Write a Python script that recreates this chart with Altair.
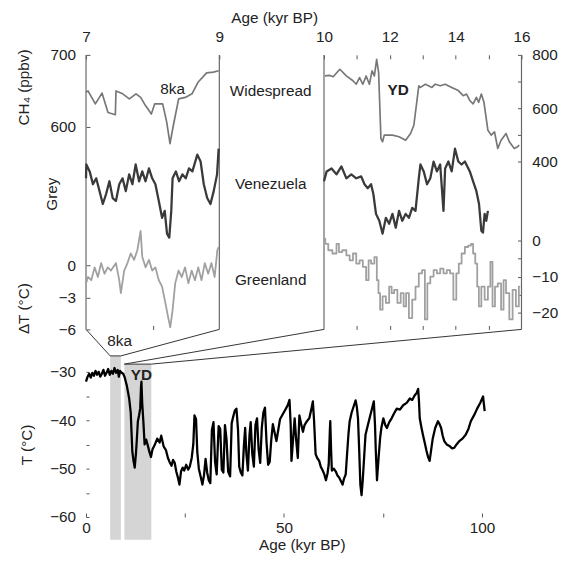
import altair as alt
import pandas as pd

# ---------------- data ----------------
# Bottom panel: temperature record, age (kyr BP) and T (deg C)
T_AGE = [0.0, 0.4, 0.8, 1.2, 1.6, 2.0, 2.4, 2.8, 3.2, 3.6, 4.0, 4.4, 4.8, 5.2, 5.6, 6.0, 6.4, 6.8, 7.2, 7.6,
         8.0, 8.3, 8.6, 9.0, 9.4, 9.8, 10.3, 10.9, 11.3, 11.5, 11.7, 12.0, 12.3, 12.6, 12.8, 13.1, 13.4, 13.7,
         13.9, 14.0, 14.2, 14.5, 14.8, 15.2, 15.6, 16.0, 16.4, 16.8, 17.4, 18.0, 18.6, 19.0, 19.6, 20.2, 20.7,
         21.2, 21.6, 22.0, 22.4, 22.8, 23.2, 23.6, 24.0, 24.4, 24.8, 25.3, 25.8, 26.2, 26.7, 27.1, 27.4, 27.8,
         28.1, 28.5, 29.0, 29.4, 29.8, 30.2, 30.6, 31.0, 31.4, 31.8, 32.2, 32.6, 33.0, 33.5, 33.9, 34.3, 34.7,
         35.1, 35.5, 35.9, 36.4, 36.8, 37.2, 37.6, 38.0, 38.4, 38.7, 39.1, 39.5, 39.9, 40.2, 40.5, 40.9, 41.3,
         41.6, 42.0, 42.4, 42.8, 43.2, 43.6, 44.0, 44.4, 44.8, 45.2, 45.6, 46.0, 46.4, 46.8, 47.2, 47.6, 48.1,
         48.6, 49.0, 49.8, 50.5, 51.0, 51.4, 51.7, 51.9, 52.3, 52.7, 53.1, 53.5, 53.9, 54.3, 54.8, 55.2, 55.8,
         56.4, 56.9, 57.3, 57.6, 58.0, 58.4, 58.9, 59.3, 59.8, 60.2, 60.6, 61.0, 61.3, 61.6, 61.7, 61.9, 62.1,
         62.6, 63.1, 63.5, 63.9, 64.4, 64.8, 65.2, 65.6, 66.0, 66.3, 66.6, 67.1, 67.7, 68.1, 68.4, 68.7, 69.0,
         69.3, 69.6, 69.9, 70.3, 70.6, 71.2, 71.8, 72.3, 72.7, 73.0, 73.2, 73.5, 73.9, 74.3, 74.6, 75.1, 75.6,
         76.0, 76.6, 77.2, 77.8, 78.5, 79.3, 80.1, 81.0, 81.8, 82.4, 83.0, 83.5, 83.9, 84.1, 84.3, 84.7, 85.1,
         85.6, 86.0, 86.4, 86.8, 87.2, 87.6, 88.2, 88.9, 89.3, 89.7, 90.1, 90.5, 91.1, 91.8, 92.4, 93.0, 93.6,
         94.3, 95.1, 95.9, 96.6, 97.2, 98.0, 98.8, 99.6, 100.3, 100.5, 100.7]
T_VAL = [-32.0, -31.0, -30.4, -31.2, -30.2, -30.8, -29.8, -30.6, -30.0, -31.0, -30.4, -29.6, -30.8, -30.2,
         -29.4, -30.6, -29.8, -30.4, -29.2, -30.2, -29.6, -31.0, -29.8, -30.2, -30.4, -31.2, -32.8, -35.5,
         -38.5, -42.5, -46.5, -48.4, -49.8, -47.0, -44.5, -40.2, -39.0, -37.5, -33.0, -32.0, -36.5, -40.5,
         -45.0, -44.0, -45.2, -46.5, -47.6, -46.0, -45.0, -43.8, -44.6, -43.2, -45.4, -46.2, -47.8, -48.8,
         -49.4, -48.2, -48.8, -50.6, -51.8, -53.3, -50.6, -49.8, -50.4, -49.2, -50.2, -49.6, -47.8, -45.0,
         -39.0, -39.8, -46.5, -50.0, -51.8, -53.3, -51.4, -48.0, -50.8, -52.4, -53.0, -42.0, -40.4, -48.6,
         -51.2, -41.2, -41.8, -50.2, -50.8, -41.0, -44.0, -50.6, -51.6, -40.6, -39.2, -38.0, -37.6, -42.0,
         -49.6, -50.8, -51.4, -45.0, -41.6, -46.8, -50.4, -43.0, -40.4, -47.0, -49.6, -41.0, -39.6, -46.0,
         -48.8, -41.6, -38.4, -37.4, -44.6, -49.2, -48.6, -44.0, -40.8, -42.4, -44.3, -41.8, -39.8, -38.6,
         -37.6, -36.8, -35.8, -41.0, -48.4, -44.0, -39.6, -44.2, -47.8, -39.0, -40.6, -42.4, -41.0, -40.2,
         -39.6, -37.8, -36.1, -40.0, -47.0, -47.8, -48.4, -49.6, -50.4, -51.2, -52.4, -51.0, -49.2, -42.0,
         -40.2, -46.0, -50.4, -50.0, -50.6, -51.4, -51.8, -52.6, -53.3, -52.0, -51.2, -46.3, -42.8, -40.2,
         -38.4, -36.9, -35.9, -37.2, -39.6, -46.0, -53.3, -55.5, -52.4, -47.0, -43.0, -41.0, -39.0, -37.4,
         -36.1, -41.0, -46.3, -52.4, -47.8, -43.6, -41.6, -39.6, -41.0, -41.6, -40.4, -39.6, -38.6, -37.6,
         -37.8, -36.9, -36.4, -35.5, -35.8, -34.9, -34.4, -33.5, -36.0, -39.6, -41.4, -43.0, -44.8, -46.3,
         -47.6, -48.4, -46.0, -43.7, -41.6, -40.2, -40.8, -41.6, -43.2, -44.3, -45.0, -45.3, -45.8, -45.7,
         -45.0, -44.3, -43.8, -43.0, -41.8, -40.2, -39.0, -37.6, -36.4, -35.1, -36.6, -38.1]

# Shaded windows on the bottom panel (kyr BP) and the T level of their top edge
WIN_START = [6.1, 9.7]
WIN_END = [8.8, 16.5]
WIN_TOP = [-26.7, -28.4]
WIN_BOTTOM = -64.7

# Left zoom panel, 7-9 kyr BP
L_CH4_AGE = [7.0, 7.03, 7.14, 7.24, 7.33, 7.44, 7.45, 7.55, 7.65, 7.75, 7.82, 7.89, 7.98, 8.03, 8.15,
             8.21, 8.26, 8.31, 8.39, 8.49, 8.59, 8.68, 8.81, 8.91, 8.99]
L_CH4 = [648, 650, 632, 647, 620, 617, 650, 646, 639, 646, 641, 630, 618, 632, 632,
         607, 577, 602, 639, 641, 646, 662, 675, 676, 678]
L_GREY_AGE = [7.0, 7.005, 7.055, 7.104, 7.153, 7.203, 7.252, 7.301, 7.351, 7.4, 7.449, 7.499, 7.548, 7.597,
              7.647, 7.696, 7.745, 7.796, 7.844, 7.893, 7.944, 7.993, 8.041, 8.092, 8.141, 8.181, 8.215,
              8.249, 8.279, 8.299, 8.348, 8.397, 8.447, 8.496, 8.545, 8.596, 8.67, 8.719, 8.767, 8.818,
              8.867, 8.916, 8.966, 8.99]
L_GREY = [73, 87, 80, 67, 73, 60, 47, 57, 70, 53, 50, 67, 73, 60, 77, 67, 87, 70, 80, 70, 83, 73, 67, 50,
          33, 40, 17, 13, 40, 73, 80, 70, 77, 73, 83, 80, 97, 90, 67, 53, 47, 60, 77, 103]
L_DT_AGE = [7.0, 7.03, 7.079, 7.129, 7.178, 7.227, 7.277, 7.326, 7.375, 7.449, 7.499, 7.523, 7.573, 7.622,
            7.671, 7.721, 7.77, 7.819, 7.844, 7.893, 7.944, 7.993, 8.041, 8.092, 8.141, 8.19, 8.23, 8.264,
            8.299, 8.338, 8.388, 8.437, 8.486, 8.536, 8.585, 8.634, 8.684, 8.733, 8.782, 8.833, 8.881,
            8.93, 8.97, 8.99]
L_DT = [-1.7, -1.1, -1.4, -0.2, -1.1, 0.2, -0.8, -0.2, -0.5, 0.2, -1.4, -2.6, -0.5, 0.2, 1.1, 0.5, 1.4,
        3.2, 0.8, -0.2, 0.5, -0.5, -0.2, -1.4, -2.0, -3.5, -4.8, -5.8, -4.2, -1.7, -0.5, -1.1, -0.2, -1.7,
        -0.5, -1.4, -0.2, -1.4, 0.2, -0.8, 0.2, -1.1, 1.4, 1.7]

# Right zoom panel, 10-16 kyr BP
R_CH4_AGE = [10.03, 10.18, 10.28, 10.48, 10.68, 10.88, 10.98, 11.08, 11.18, 11.28, 11.38, 11.46, 11.53,
             11.6, 11.66, 11.73, 11.78, 11.83, 12.08, 12.28, 12.48, 12.63, 12.73, 12.88, 12.93, 13.08,
             13.28, 13.38, 13.53, 13.68, 13.88, 14.08, 14.23, 14.33, 14.43, 14.53, 14.63, 14.7, 14.78,
             14.86, 14.98, 15.08, 15.18, 15.28, 15.38, 15.53, 15.63, 15.78, 15.88, 15.93]
R_CH4 = [721, 723, 718, 746, 721, 703, 690, 715, 690, 721, 690, 740, 721, 783, 733, 486, 474, 499, 499,
         493, 480, 505, 536, 684, 678, 690, 678, 690, 684, 690, 678, 666, 647, 653, 629, 616, 641, 622,
         653, 622, 517, 499, 511, 449, 480, 505, 474, 449, 455, 462]
R_GREY_AGE = [10.0, 10.08, 10.23, 10.38, 10.53, 10.68, 10.83, 10.98, 11.13, 11.23, 11.33, 11.43, 11.5,
              11.58, 11.68, 11.78, 11.88, 11.98, 12.08, 12.18, 12.28, 12.38, 12.48, 12.58, 12.68, 12.78,
              12.88, 12.93, 13.03, 13.13, 13.23, 13.33, 13.43, 13.53, 13.63, 13.68, 13.78, 13.88, 13.98,
              14.08, 14.18, 14.28, 14.43, 14.53, 14.63, 14.71, 14.78, 14.83, 14.88, 14.93, 14.98]
R_GREY = [70, 80, 83, 77, 85, 73, 77, 73, 75, 67, 63, 67, 57, 37, 30, 17, 33, 27, 37, 23, 40, 30, 37, 33,
          43, 40, 73, 87, 80, 67, 73, 90, 80, 87, 40, 83, 90, 80, 103, 90, 87, 90, 80, 70, 60, 47, 20, 18,
          37, 30, 40]
R_DT_AGE = [10.0, 10.08, 10.18, 10.33, 10.43, 10.48, 10.63, 10.73, 10.83, 10.93, 11.03, 11.13, 11.23,
            11.33, 11.38, 11.48, 11.58, 11.63, 11.68, 11.73, 11.83, 11.93, 12.03, 12.08, 12.18, 12.28,
            12.38, 12.46, 12.53, 12.63, 12.73, 12.83, 12.93, 13.03, 13.1, 13.18, 13.28, 13.38, 13.48,
            13.58, 13.68, 13.78, 13.88, 13.98, 14.06, 14.13, 14.23, 14.33, 14.43, 14.5, 14.56, 14.63,
            14.68, 14.73, 14.83, 14.93, 15.03, 15.08, 15.16, 15.23, 15.33, 15.43, 15.48, 15.58, 15.68,
            15.78, 15.88, 15.96]
R_DT = [0.5, -0.9, -2.7, -3.6, -0.9, -3.2, -2.7, -4.1, -5.5, -3.6, -6.4, -5.5, -7.3, -11, -5.5, -6.4, -4.6,
        -11, -14.6, -19.2, -15.5, -17.3, -12.8, -14.6, -13.7, -17.3, -14.6, -18.3, -14.6, -21.5, -16.4,
        -12.8, -9.1, -8.2, -21.9, -11.9, -10, -8.2, -9.1, -7.8, -9.1, -8.2, -9.1, -16.4, -9.1, -6.4, -3.6,
        -1.8, -1.4, -0.9, -3.6, -6.4, -12.8, -18.3, -12.8, -16.4, -12.8, -5.9, -18.3, -12.8, -11.9, -19.2,
        -11, -14.6, -21.9, -13.7, -18.3, -12.8]

# ---------------- layout ----------------
FONT = "Liberation Sans"
FS = 15.5
W, H = 441, 468
PANEL_BOTTOM = 278

XB_DOM, XB_RNG = [0, 110], [0, W]
YB_DOM, YB_RNG = [-60, -30], [468, 321]
XL_DOM, XL_RNG = [7, 9], [0, 135]
XR_DOM, XR_RNG = [10, 16], [241, W]
YL_CH4 = ([600, 700], [73, 0])
YR_CH4 = ([400, 800], [108, 0])
Y_GREY = ([0, 100], [198, 98])
YL_DT = ([-6, 0], [278, 213])
YR_DT = ([-20, 0], [261, 188])


def sc(dom, rng):
    return alt.Scale(domain=dom, range=rng, nice=False, zero=False)


def inv(v, dom, rng):
    return dom[0] + (v - rng[0]) * (dom[1] - dom[0]) / (rng[1] - rng[0])


AX = dict(grid=False, domain=False, title=None, tickColor="#555555", tickWidth=1,
          labelColor="#222222", labelFont=FONT, labelFontSize=FS,
          labelFlush=False, labelOverlap=False, format="d")


def line_layer(ages, vals, xs, ys, color, width, xaxis=None, yaxis=None, interp="linear"):
    df = pd.DataFrame({"age": ages, "v": vals})
    return alt.Chart(df).mark_line(color=color, strokeWidth=width, interpolate=interp,
                                   strokeJoin="round").encode(
        x=alt.X("age:Q", scale=sc(*xs), axis=xaxis),
        y=alt.Y("v:Q", scale=sc(*ys), axis=yaxis),
    )


# shaded windows
bars = alt.Chart(pd.DataFrame({"s": WIN_START, "e": WIN_END, "top": WIN_TOP,
                               "bot": [WIN_BOTTOM] * len(WIN_START)})).mark_rect(color="#d5d5d5").encode(
    x=alt.X("s:Q", scale=sc(XB_DOM, XB_RNG), axis=None), x2="e:Q",
    y=alt.Y("top:Q", scale=sc(YB_DOM, YB_RNG), axis=None), y2="bot:Q")

# connector lines (in bottom-panel units), from the zoom panels' corners to the windows
pb = inv(PANEL_BOTTOM, YB_DOM, YB_RNG)
cx = [inv(p, XB_DOM, XB_RNG) for p in (XL_RNG[0], XL_RNG[1], XR_RNG[0], XR_RNG[1])]
conn_df = pd.DataFrame({
    "x": [cx[0], WIN_START[0], WIN_END[0], cx[1], cx[2], WIN_START[1], WIN_END[1], cx[3]],
    "y": [pb, WIN_TOP[0], WIN_TOP[0], pb, pb, WIN_TOP[1], WIN_TOP[1], pb],
    "g": [0, 0, 0, 0, 1, 1, 1, 1],
    "o": [0, 1, 2, 3, 0, 1, 2, 3],
})
conn = alt.Chart(conn_df).mark_line(color="#333333", strokeWidth=1).encode(
    x=alt.X("x:Q", scale=sc(XB_DOM, XB_RNG), axis=None),
    y=alt.Y("y:Q", scale=sc(YB_DOM, YB_RNG), axis=None),
    detail="g:N", order="o:Q")

# panel frames
frame_l = alt.Chart(pd.DataFrame({"a": XL_DOM})).mark_rule(color="#666666", strokeWidth=1.2).encode(
    x=alt.X("a:Q", scale=sc(XL_DOM, XL_RNG), axis=None), y=alt.value(0), y2=alt.value(PANEL_BOTTOM))
frame_r = alt.Chart(pd.DataFrame({"a": XR_DOM})).mark_rule(color="#666666", strokeWidth=1.2).encode(
    x=alt.X("a:Q", scale=sc(XR_DOM, XR_RNG), axis=None), y=alt.value(0), y2=alt.value(PANEL_BOTTOM))

# bottom temperature record
t_line = line_layer(
    T_AGE, T_VAL, (XB_DOM, XB_RNG), (YB_DOM, YB_RNG), "#000000", 2.3,
    xaxis=alt.Axis(orient="bottom", values=[0, 25, 50, 75, 100],
                   labelExpr="datum.value % 50 == 0 ? datum.label : ''",
                   offset=-4, tickSize=4, labelPadding=4, **AX),
    yaxis=alt.Axis(orient="left", values=[-60, -55, -50, -45, -40, -35, -30],
                   labelExpr="datum.value % 10 == 0 ? datum.label : ''",
                   offset=-3, tickSize=3, labelPadding=10.5, **AX))

# left panel
l_ch4 = line_layer(
    L_CH4_AGE, L_CH4, (XL_DOM, XL_RNG), YL_CH4, "#777777", 1.7,
    xaxis=alt.Axis(orient="top", values=[7, 8, 9], offset=-4, tickSize=4, labelPadding=10.7, **AX),
    yaxis=alt.Axis(orient="left", values=[600, 700], offset=-4, tickSize=4, labelPadding=10.5, **AX))
l_grey = line_layer(L_GREY_AGE, L_GREY, (XL_DOM, XL_RNG), Y_GREY, "#3a3a3a", 2.3)
l_dt = line_layer(
    L_DT_AGE, L_DT, (XL_DOM, XL_RNG), YL_DT, "#a0a0a0", 1.8,
    xaxis=alt.Axis(orient="bottom", values=[8], offset=-(H - PANEL_BOTTOM) - 4, tickSize=4,
                   labels=False, **AX),
    yaxis=alt.Axis(orient="left", values=[-6, -3, 0], offset=-4, tickSize=4, labelPadding=10.5, **AX))

# right panel
r_ch4 = line_layer(
    R_CH4_AGE, R_CH4, (XR_DOM, XR_RNG), YR_CH4, "#777777", 1.7,
    xaxis=alt.Axis(orient="top", values=[10, 11, 12, 13, 14, 15, 16],
                   labelExpr="datum.value % 2 == 0 ? datum.label : ''",
                   offset=-4, tickSize=4, labelPadding=10.7, **AX),
    yaxis=alt.Axis(orient="right", values=[400, 500, 600, 700, 800],
                   labelExpr="datum.value % 200 == 0 ? datum.label : ''",
                   offset=-4, tickSize=4, labelPadding=10.5, **AX))
r_grey = line_layer(R_GREY_AGE, R_GREY, (XR_DOM, XR_RNG), Y_GREY, "#3a3a3a", 2.3)
r_dt = line_layer(
    R_DT_AGE, R_DT, (XR_DOM, XR_RNG), YR_DT, "#a0a0a0", 1.8,
    xaxis=alt.Axis(orient="bottom", values=[11, 12, 13, 14, 15], offset=-(H - PANEL_BOTTOM) - 4,
                   tickSize=4, labels=False, **AX),
    yaxis=alt.Axis(orient="right", values=[-20, -15, -10, -5, 0],
                   labelExpr="datum.value % 10 == 0 ? datum.label : ''",
                   offset=-4, tickSize=4, labelPadding=10.5, **AX),
    interp="step")


# texts
def ptext(txt, x, y, angle=0, bold=False):
    return alt.Chart(pd.DataFrame({"t": [txt]})).mark_text(
        font=FONT, fontSize=FS, color="#222222", align="center", baseline="middle",
        angle=angle, fontWeight="bold" if bold else "normal").encode(
        text="t:N", x=alt.value(x), y=alt.value(y))


def dtext(txt, xv, yv, xs, ys, bold=False):
    return alt.Chart(pd.DataFrame({"t": [txt], "x": [xv], "y": [yv]})).mark_text(
        font=FONT, fontSize=FS, color="#222222", align="center", baseline="middle",
        fontWeight="bold" if bold else "normal").encode(
        text="t:N", x=alt.X("x:Q", scale=sc(*xs), axis=None), y=alt.Y("y:Q", scale=sc(*ys), axis=None))


texts = [
    ptext("Age (kyr BP)", 191, -37),
    ptext("CH\u2084 (ppbv)", -63, 33, angle=270),
    ptext("Grey", -34, 141, angle=270),
    ptext("\u0394T (\u00b0C)", -63, 257, angle=270),
    ptext("T (\u00b0C)", -60, 395, angle=270),
    ptext("Widespread", 187, 37),
    ptext("Venezuela", 187, 131),
    ptext("Greenland", 187, 228),
    ptext("Age (kyr BP)", 219, 496),
    dtext("8ka", 8.3, 653, (XL_DOM, XL_RNG), YL_CH4),
    dtext("YD", 12.25, 668, (XR_DOM, XR_RNG), YR_CH4, bold=True),
    dtext("8ka", 8.5, -23.7, (XB_DOM, XB_RNG), (YB_DOM, YB_RNG)),
    dtext("YD", 14.0, -30.6, (XB_DOM, XB_RNG), (YB_DOM, YB_RNG), bold=True),
]

chart = alt.layer(
    bars, conn, frame_l, frame_r, t_line, l_ch4, l_grey, l_dt, r_ch4, r_grey, r_dt, *texts
).resolve_scale(x="independent", y="independent").properties(
    width=W, height=H,
    autosize=alt.AutoSizeParams(type="none"),
    padding={"left": 79, "top": 44, "right": 39, "bottom": 36},
).configure_view(stroke=None)

chart.save("out.html", embed_options={"renderer": "svg", "actions": False})
